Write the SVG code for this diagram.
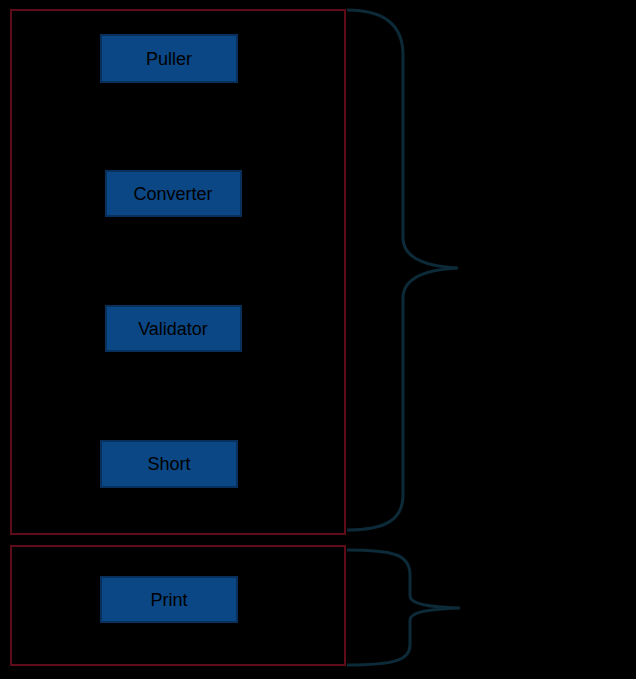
<svg xmlns="http://www.w3.org/2000/svg" width="636" height="679" viewBox="0 0 636 679">
<style>
.grp{fill:none;stroke:#5e0c18;stroke-width:2}
.box{fill:#0b4784;stroke:#08305c;stroke-width:2}
.lbl{font-family:"Liberation Sans",Arial,sans-serif;font-size:18px;fill:#000;text-anchor:middle;dominant-baseline:central}
.brace{fill:none;stroke:#0c2a38;stroke-width:3}
</style>
<rect x="0" y="0" width="636" height="679" fill="#000"/>
<g id="group-main"><rect class="grp" x="11" y="10" width="334" height="524"/></g>
<g id="group-print"><rect class="grp" x="11" y="546" width="334" height="119"/></g>
<g id="puller"><rect class="box" x="101" y="35" width="136" height="47"/><text class="lbl" x="169" y="59">Puller</text></g>
<g id="converter"><rect class="box" x="106" y="171" width="135" height="45"/><text class="lbl" x="173" y="194">Converter</text></g>
<g id="validator"><rect class="box" x="106" y="306" width="135" height="45"/><text class="lbl" x="173" y="329">Validator</text></g>
<g id="short"><rect class="box" x="101" y="441" width="136" height="46"/><text class="lbl" x="169" y="464">Short</text></g>
<g id="print"><rect class="box" x="101" y="577" width="136" height="45"/><text class="lbl" x="169" y="600">Print</text></g>
<g id="connectors">
<path class="brace" d="M347,10 C385,10 403,25 403,55 L403,238 C403,255 420,266 458,268 C420,270 403,281 403,298 L403,495 C403,520 385,530 347,530"/>
<path class="brace" d="M347,550 C395,550 410,555 410,575 L410,596 C410,603 425,607 460,608 C425,609 410,613 410,620 L410,645 C410,660 395,665 347,665"/>
</g>
</svg>
